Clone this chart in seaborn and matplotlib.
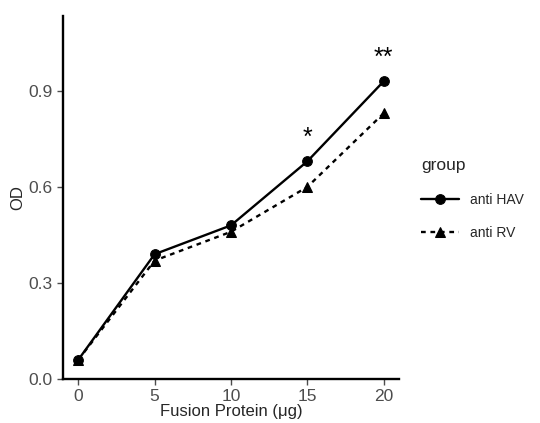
import matplotlib
matplotlib.use("Agg")
import matplotlib.pyplot as plt
import numpy as np
import pandas as pd
import seaborn as sns

dose = [0, 5, 10, 15, 20]
anti_hav = [0.06, 0.39, 0.48, 0.68, 0.93]
anti_rv = [0.06, 0.37, 0.46, 0.60, 0.83]
groups = ["anti HAV", "anti RV"]
star_x = [15, 20]
star_y = [0.755, 1.005]
star_text = ["*", "**"]

df = pd.DataFrame({
    "dose": dose * 2,
    "OD": anti_hav + anti_rv,
    "group": [groups[0]] * len(dose) + [groups[1]] * len(dose),
})

sns.set_style("ticks")
plt.rcParams['font.family'] = ['Liberation Sans', 'DejaVu Sans']

fig = plt.figure(figsize=(5.4, 4.23), dpi=100)
ax = fig.add_axes([0.1167, 0.104, 0.622, 0.858])
sns.lineplot(data=df, x="dose", y="OD", style="group", color="black",
             markers={groups[0]: "o", groups[1]: "^"},
             dashes={groups[0]: "", groups[1]: (2, 2)},
             markersize=7, markeredgecolor="black", linewidth=1.7, ax=ax)

for x, y, t in zip(star_x, star_y, star_text):
    ax.text(x, y, t, ha="center", va="center", fontsize=18, color="black")

ax.set_xlim(-1, 21)
ax.set_ylim(0, 1.134)
ax.set_xticks([0, 5, 10, 15, 20])
ax.set_yticks([0.0, 0.3, 0.6, 0.9])
ax.set_yticklabels(["0.0", "0.3", "0.6", "0.9"])
ax.set_xlabel("Fusion Protein (\u03bcg)", fontsize=12, labelpad=0)
ax.set_ylabel("OD", fontsize=12, labelpad=2)
ax.tick_params(labelsize=12.5, colors="#4d4d4d", length=4, width=1)
for s in ["top", "right"]:
    ax.spines[s].set_visible(False)
for s in ["left", "bottom"]:
    ax.spines[s].set_linewidth(1.7)
    ax.spines[s].set_color("black")

leg = ax.legend(title="group", loc="center left", bbox_to_anchor=(1.03, 0.495),
                frameon=False, fontsize=10, title_fontsize=12.5,
                handlelength=2.7, labelspacing=1.4)
leg._legend_box.align = "left"

fig.savefig("out.png", dpi=100)
